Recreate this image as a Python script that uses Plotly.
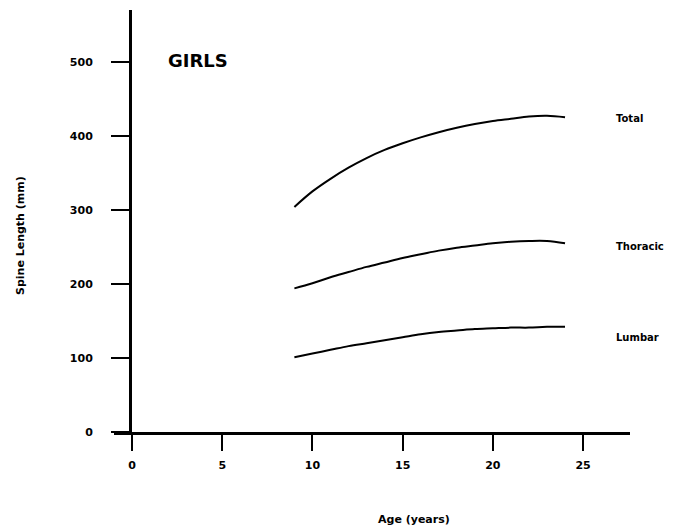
import plotly.graph_objects as go

ages = [9, 10, 11, 12, 13, 14, 15, 16, 17, 18, 19, 20, 21, 22, 23, 24]
total = [304, 325, 342, 357, 370, 381, 390, 398, 405, 411, 416, 420, 423, 426, 427, 425]
thoracic = [194, 201, 209, 216, 223, 229, 235, 240, 245, 249, 252, 255, 257, 258, 258, 255]
lumbar = [101, 106, 111, 116, 120, 124, 128, 132, 135, 137, 139, 140, 141, 141, 142, 142]

series_names = ["Total", "Thoracic", "Lumbar"]
series_values = [total, thoracic, lumbar]
label_y = [424, 251, 127]

x_ticks = [0, 5, 10, 15, 20, 25]
y_ticks = [0, 100, 200, 300, 400, 500]

FONT = "DejaVu Sans"

# plot area in figure pixels (page body adds an 8px offset)
L, R, T, B = 124, 60, 2, 105
PW = 682 - L - R
PH = 529 - T - B


def px_to_paper(sx, sy):
    return (sx - 8 - L) / PW, (529 - B - (sy - 8)) / PH


fig = go.Figure()
for name, vals in zip(series_names, series_values):
    fig.add_trace(go.Scatter(x=ages, y=vals, mode="lines", name=name,
                             line=dict(color="black", width=2, shape="spline", smoothing=1.0),
                             showlegend=False, hoverinfo="skip"))

for name, yv in zip(series_names, label_y):
    fig.add_annotation(x=26.7, y=yv, xref="x", yref="y", text=name, showarrow=False,
                       xanchor="left", yanchor="middle",
                       font=dict(family=FONT, size=10, color="black", weight="bold"))

fig.add_annotation(x=1.88, y=502, xref="x", yref="y", text="GIRLS", showarrow=False,
                   xanchor="left", yanchor="middle",
                   font=dict(family=FONT, size=18, color="black", weight="bold"))

# axis titles
ax, ay = px_to_paper(414, 519)
fig.add_annotation(x=ax, y=ay, xref="paper", yref="paper",
                   text="Age (years)", showarrow=False, xanchor="center", yanchor="middle",
                   font=dict(family=FONT, size=11, color="black", weight="bold"))
tx, ty = px_to_paper(20, 236)
fig.add_annotation(x=tx, y=ty, xref="paper", yref="paper",
                   text="Spine Length (mm)", showarrow=False, textangle=-90,
                   xanchor="center", yanchor="middle",
                   font=dict(family=FONT, size=11, color="black", weight="bold"))

# extension of the horizontal axis to the left of the origin
fig.add_shape(type="line", xref="paper", yref="paper", x0=-18 / PW, x1=-1 / PW,
              y0=-1.5 / PH, y1=-1.5 / PH, layer="above",
              line=dict(color="black", width=3))

fig.update_xaxes(range=[0, 27.6], tickvals=x_ticks, ticktext=[str(v) for v in x_ticks],
                 showline=True, linecolor="black", linewidth=3,
                 ticks="outside", ticklen=16, tickwidth=2, tickcolor="black",
                 showgrid=False, zeroline=False, ticklabelstandoff=5,
                 tickfont=dict(family=FONT, size=11, color="black", weight="bold"))
fig.update_yaxes(range=[0, 570], tickvals=y_ticks, ticktext=[str(v) for v in y_ticks],
                 showline=True, linecolor="black", linewidth=3,
                 ticks="outside", ticklen=18, tickwidth=2, tickcolor="black",
                 showgrid=False, zeroline=False, ticklabelstandoff=16,
                 tickfont=dict(family=FONT, size=11, color="black", weight="bold"))

fig.update_layout(width=682, height=529, margin=dict(l=L, r=R, t=T, b=B, autoexpand=False),
                  plot_bgcolor="white", paper_bgcolor="white")

fig.write_html("out.html")
